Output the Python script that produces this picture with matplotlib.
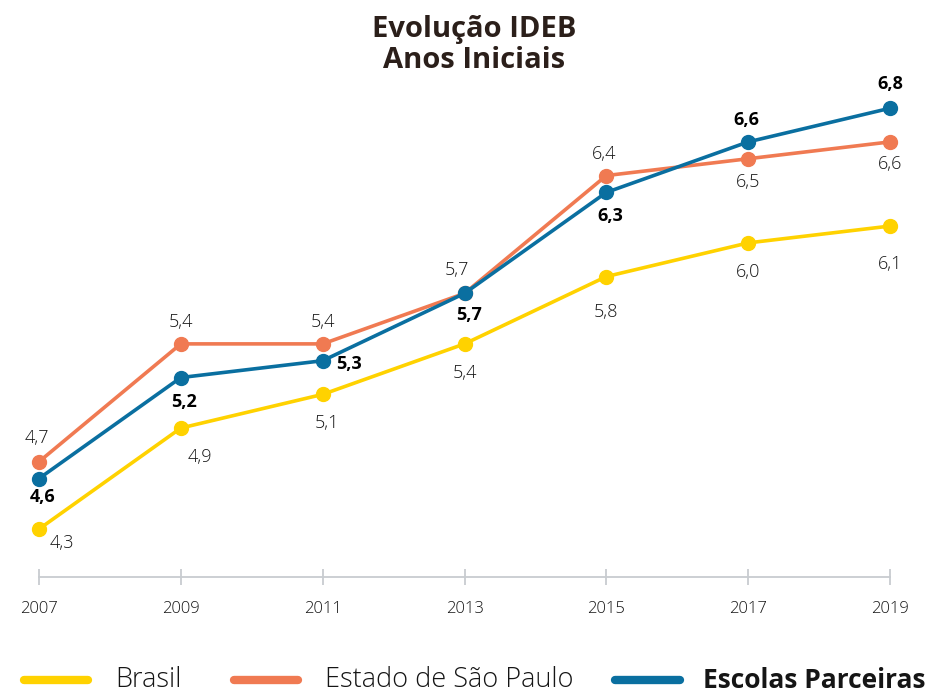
import matplotlib.pyplot as plt
from matplotlib.lines import Line2D

plt.rcParams['font.family'] = ['Open Sans', 'DejaVu Sans']

years = [2007, 2009, 2011, 2013, 2015, 2017, 2019]
brasil = [4.3, 4.9, 5.1, 5.4, 5.8, 6.0, 6.1]
sao_paulo = [4.7, 5.4, 5.4, 5.7, 6.4, 6.5, 6.6]
escolas = [4.6, 5.2, 5.3, 5.7, 6.3, 6.6, 6.8]
series_names = ['Brasil', 'Estado de São Paulo', 'Escolas Parceiras']

colors = ['#FFD200', '#F07A52', '#0A6FA0']

# label offsets in pixels (x, y up)
off_brasil = [(23, -14), (19, -29), (4, -29), (0, -29), (0, -35), (0, -29), (0, -38)]
off_sp = [(-2, 24), (0, 22), (0, 22), (-8, 23), (-2, 22), (0, -23), (0, -22)]
off_esc = [(4, -18), (3, -24), (26, -3), (5, -22), (4, -24), (-2, 22), (0, 24)]

fig = plt.figure(figsize=(9.31, 6.94), dpi=100)
ax = fig.add_axes([0, 0, 1, 1])
ax.set_xlim(2006.45, 2019.578)
ax.set_ylim(3.320, 7.443)

for vals, c, offs, bold, z in [(brasil, colors[0], off_brasil, False, 2),
                                (sao_paulo, colors[1], off_sp, False, 3),
                                (escolas, colors[2], off_esc, True, 4)]:
    ax.plot(years, vals, color=c, lw=2.6, marker='o', ms=10, zorder=z)
    for x, v, (dx, dy) in zip(years, vals, offs):
        ax.annotate(f"{v:.1f}".replace('.', ','), (x, v), xytext=(dx, dy),
                    textcoords='offset pixels', ha='center', va='center',
                    fontsize=13, color='#151515' if not bold else 'black',
                    fontweight='bold' if bold else 'light', zorder=6)

for s in ['top', 'right', 'left']:
    ax.spines[s].set_visible(False)
ax.spines['bottom'].set_position(('data', 4.015))
ax.spines['bottom'].set_bounds(years[0], years[-1])
ax.spines['bottom'].set_color('#C8CCD0')
ax.spines['bottom'].set_linewidth(1.3)
ax.set_xticks(years)
ax.set_xticklabels([str(y) for y in years], fontsize=12, color='#151515', fontweight='light')
ax.tick_params(axis='x', direction='inout', length=12, width=1.3, color='#C8CCD0', pad=11)
ax.set_yticks([])

fig.text(474 / 931, 1 - 30 / 694, 'Evolução IDEB', ha='center', va='center',
         fontsize=21, fontweight='bold', color='#2B1F1A')
fig.text(474 / 931, 1 - 60 / 694, 'Anos Iniciais', ha='center', va='center',
         fontsize=21, fontweight='bold', color='#2B1F1A')

# legend drawn by hand to match the wide spacing
leg_y = 1 - 680 / 694
line_x = [(24, 88), (234, 298), (615, 680)]
text_x = [115, 325, 703]
for (x0, x1), tx, c, name, w in zip(line_x, text_x, colors, series_names,
                                    ['light', 'light', 'bold']):
    fig.add_artist(Line2D([x0 / 931, x1 / 931], [leg_y, leg_y], color=c, lw=6,
                          solid_capstyle='round', transform=fig.transFigure))
    fig.text(tx / 931, leg_y, name, ha='left', va='center',
             fontsize=19 if w == 'bold' else 19.5, fontweight=w, color='#151515')

fig.savefig('out.png', dpi=100)
